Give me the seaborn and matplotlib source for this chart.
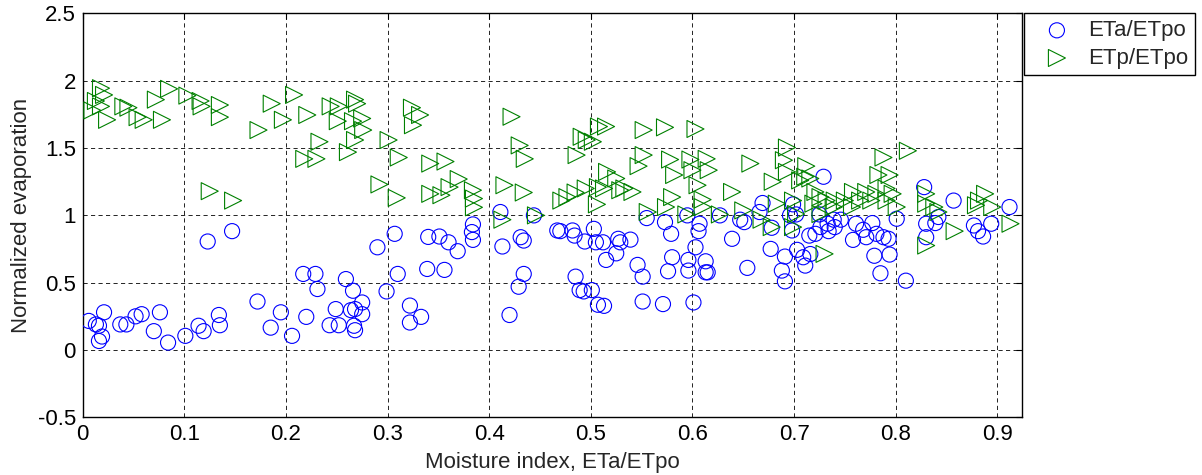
import numpy as np
import pandas as pd
import matplotlib
matplotlib.use("Agg")
import matplotlib.pyplot as plt
from matplotlib.ticker import FuncFormatter
import seaborn as sns

# ---- data ----
eta_x = [0.006, 0.013, 0.016, 0.021, 0.016, 0.019, 0.037, 0.043, 0.052, 0.058, 0.076, 0.070, 0.084,
         0.101, 0.114, 0.119, 0.134, 0.135, 0.123, 0.147,
         0.172, 0.185, 0.195, 0.206, 0.220, 0.217, 0.229, 0.231, 0.243, 0.249, 0.252, 0.259, 0.266,
         0.264, 0.268, 0.275, 0.275, 0.267, 0.268, 0.290, 0.307, 0.310, 0.299, 0.322, 0.322,
         0.340, 0.351, 0.360, 0.369, 0.339, 0.356, 0.384, 0.383, 0.384, 0.333, 0.411, 0.413, 0.431,
         0.434, 0.434, 0.429, 0.420, 0.444, 0.467, 0.470,
         0.482, 0.484, 0.494, 0.503, 0.505, 0.512, 0.527, 0.529, 0.539, 0.525, 0.515, 0.485, 0.489,
         0.493, 0.501, 0.507, 0.513, 0.546, 0.551, 0.551, 0.571, 0.601, 0.555, 0.573, 0.579, 0.580,
         0.576, 0.596, 0.596, 0.603, 0.595, 0.607, 0.606, 0.613, 0.613, 0.615, 0.627, 0.639,
         0.647, 0.651, 0.654, 0.669, 0.666, 0.678, 0.677, 0.691, 0.688, 0.691, 0.696, 0.699, 0.702,
         0.698, 0.703, 0.709, 0.711, 0.716, 0.715, 0.721, 0.725, 0.729, 0.726, 0.733, 0.739, 0.740,
         0.746, 0.734, 0.758, 0.761, 0.768, 0.771, 0.777, 0.781, 0.788, 0.779, 0.785, 0.794, 0.793,
         0.801, 0.810, 0.828, 0.830, 0.839, 0.842, 0.830, 0.857, 0.877, 0.881, 0.886, 0.894, 0.912]
eta_y = [0.216, 0.19, 0.18, 0.28, 0.067, 0.10, 0.19, 0.19, 0.25, 0.266, 0.28, 0.14, 0.055,
         0.105, 0.18, 0.14, 0.26, 0.184, 0.806, 0.883,
         0.36, 0.166, 0.28, 0.105, 0.246, 0.565, 0.565, 0.453, 0.184, 0.304, 0.184, 0.527, 0.44,
         0.296, 0.304, 0.353, 0.266, 0.18, 0.147, 0.763, 0.863, 0.565, 0.435, 0.33, 0.204,
         0.84, 0.843, 0.80, 0.734, 0.602, 0.595, 0.933, 0.876, 0.818, 0.246, 1.025, 0.769, 0.838,
         0.813, 0.565, 0.47, 0.26, 1.0, 0.888, 0.883,
         0.888, 0.85, 0.806, 0.90, 0.80, 0.80, 0.826, 0.80, 0.82, 0.718, 0.669, 0.545, 0.445,
         0.435, 0.445, 0.336, 0.328, 0.632, 0.545, 0.36, 0.341, 0.353, 0.98, 0.95, 0.863, 0.689,
         0.585, 0.669, 0.59, 0.763, 1.0, 0.938, 0.883, 0.659, 0.577, 0.577, 1.0, 0.826,
         0.968, 0.95, 0.61, 1.092, 1.025, 0.908, 0.751, 0.694, 0.59, 0.51, 1.0, 1.082, 1.007,
         0.888, 0.744, 0.689, 0.627, 0.713, 0.85, 0.863, 1.007, 1.287, 0.913, 0.938, 0.968, 0.913,
         0.968, 0.883, 0.818, 0.938, 0.893, 0.838, 0.943, 0.863, 0.838, 0.70, 0.57, 0.709, 0.826,
         0.975, 0.515, 1.21, 0.938, 0.943, 0.988, 0.838, 1.11, 0.925, 0.883, 0.843, 0.938, 1.062]

etp_x = [0.018, 0.021, 0.0095, 0.013, 0.018, 0.024, 0.040, 0.045, 0.054, 0.060, 0.072, 0.078, 0.085,
         0.103, 0.116, 0.117, 0.135, 0.135, 0.125, 0.148,
         0.173, 0.186, 0.197, 0.208, 0.221, 0.233, 0.218, 0.230, 0.244, 0.252, 0.251, 0.261, 0.268,
         0.270, 0.266, 0.275, 0.276, 0.268, 0.301, 0.311, 0.292, 0.309, 0.324, 0.325,
         0.332, 0.342, 0.357, 0.342, 0.353, 0.361, 0.370, 0.384, 0.385, 0.385, 0.422, 0.430, 0.435,
         0.415, 0.434, 0.413, 0.446, 0.471, 0.477,
         0.515, 0.508, 0.491, 0.496, 0.502, 0.486, 0.552, 0.573, 0.603, 0.552, 0.547, 0.578, 0.582,
         0.598, 0.600, 0.614, 0.616, 0.605, 0.516, 0.525, 0.507, 0.513, 0.495, 0.485, 0.506, 0.529,
         0.533, 0.541, 0.580, 0.574, 0.556, 0.594, 0.610, 0.610, 0.627, 0.639,
         0.657, 0.693, 0.690, 0.712, 0.693, 0.679, 0.711, 0.716, 0.706, 0.788, 0.783, 0.794, 0.721,
         0.726, 0.732, 0.740, 0.750, 0.758, 0.771, 0.781, 0.791, 0.765, 0.776, 0.791, 0.650, 0.668,
         0.678, 0.683, 0.699, 0.702, 0.699, 0.726, 0.730, 0.739, 0.757, 0.719,
         0.812, 0.797, 0.801, 0.830, 0.830, 0.838, 0.842, 0.830, 0.858, 0.879, 0.882, 0.888, 0.895,
         0.913]
etp_y = [1.945, 1.895, 1.78, 1.85, 1.81, 1.71, 1.81, 1.80, 1.73, 1.71, 1.86, 1.71, 1.94,
         1.89, 1.85, 1.81, 1.82, 1.73, 1.18, 1.11,
         1.634, 1.83, 1.71, 1.895, 1.746, 1.547, 1.42, 1.42, 1.81, 1.81, 1.70, 1.47, 1.86,
         1.83, 1.70, 1.72, 1.634, 1.56, 1.56, 1.43, 1.23, 1.13, 1.80, 1.67,
         1.746, 1.385, 1.40, 1.16, 1.15, 1.21, 1.27, 1.187, 1.125, 1.06, 1.733, 1.52, 1.42,
         1.224, 1.17, 0.968, 1.0, 1.11, 1.136,
         1.66, 1.66, 1.584, 1.56, 1.547, 1.448, 1.634, 1.654, 1.642, 1.448, 1.366, 1.415, 1.30,
         1.415, 1.336, 1.42, 1.336, 1.224, 1.323, 1.274, 1.21, 1.20, 1.20, 1.17, 1.082, 1.187,
         1.20, 1.174, 1.136, 1.062, 1.025, 1.007, 1.117, 1.062, 1.007, 1.174,
         1.385, 1.504, 1.41, 1.366, 1.323, 1.25, 1.287, 1.274, 1.26, 1.43, 1.30, 1.30, 1.174,
         1.136, 1.11, 1.11, 1.11, 1.174, 1.174, 1.16, 1.20, 1.11, 1.11, 1.11, 1.037, 0.968,
         0.913, 1.087, 1.11, 1.01, 0.913, 1.01, 0.714, 1.062, 1.062, 1.087,
         1.48, 1.16, 1.062, 1.16, 1.087, 1.062, 1.025, 0.776, 0.883, 1.075, 1.11, 1.16, 1.062,
         0.938]

series_labels = ["ETa/ETpo", "ETp/ETpo"]
x_label = "Moisture index, ETa/ETpo"
y_label = "Normalized evaporation"
x_ticks = [0, 0.1, 0.2, 0.3, 0.4, 0.5, 0.6, 0.7, 0.8, 0.9]
y_ticks = [-0.5, 0, 0.5, 1, 1.5, 2, 2.5]

# ---- styling ----
sns.set_style("white")
plt.rcParams["font.family"] = ["Liberation Sans", "DejaVu Sans"]
FS = 16

fig = plt.figure(figsize=(12.02, 4.75), dpi=100)
ax = fig.add_axes([0.0688, 0.1215, 0.850 - 0.0688, 0.9716 - 0.1215])

df_a = pd.DataFrame({"x": eta_x, "y": eta_y})
df_p = pd.DataFrame({"x": etp_x, "y": etp_y})

sns.scatterplot(data=df_a, x="x", y="y", ax=ax, marker="o", s=118,
                facecolors="none", edgecolor=(0, 0, 1), linewidth=0.8,
                label=series_labels[0], zorder=3)
sns.scatterplot(data=df_p, x="x", y="y", ax=ax, marker=">", s=150,
                facecolors="none", edgecolor=(0, 0.5, 0), linewidth=0.8,
                label=series_labels[1], zorder=3)

ax.set_xlim(0, 0.924)
ax.set_ylim(-0.5, 2.5)
ax.set_xticks(x_ticks)
ax.set_yticks(y_ticks)
fmt = FuncFormatter(lambda v, p: "%g" % v)
ax.xaxis.set_major_formatter(fmt)
ax.yaxis.set_major_formatter(fmt)
ax.tick_params(direction="in", top=True, right=True, length=4, width=0.8,
               labelsize=FS, colors="black", pad=5)
ax.grid(True, color="black", linestyle=(0, (5, 4)), linewidth=0.6)
ax.set_axisbelow(True)
for sp in ax.spines.values():
    sp.set_color("black")
    sp.set_linewidth(1.0)
    sp.set_visible(True)

ax.set_xlabel(x_label, fontsize=FS, labelpad=5)
ax.set_ylabel(y_label, fontsize=FS, labelpad=4)

leg = ax.legend(loc="upper left", bbox_to_anchor=(1.002, 1.0), borderaxespad=0,
                fontsize=FS, frameon=True, fancybox=False, framealpha=1,
                edgecolor="black", scatterpoints=1, handlelength=2.4,
                handletextpad=0.2, labelspacing=0.3, borderpad=0.3)
leg.get_frame().set_linewidth(1.0)

fig.savefig("out.png", dpi=100)
